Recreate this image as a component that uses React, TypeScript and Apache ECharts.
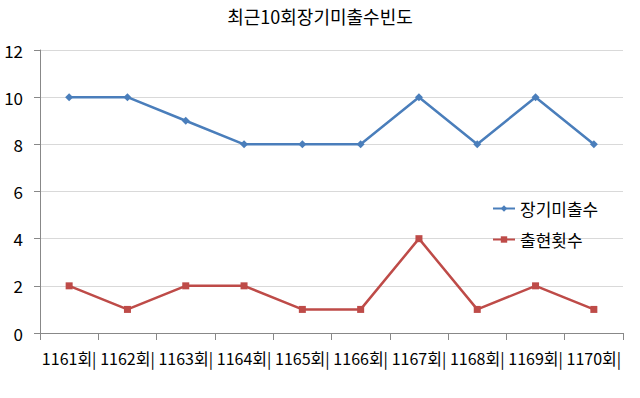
import React, { useEffect, useRef } from "react";
import * as echarts from "echarts";

const categories = ["1161회|", "1162회|", "1163회|", "1164회|", "1165회|", "1166회|", "1167회|", "1168회|", "1169회|", "1170회|"];
const missValues = [10, 10, 9, 8, 8, 8, 10, 8, 10, 8];
const appearValues = [2, 1, 2, 2, 1, 1, 4, 1, 2, 1];
const yTicks = { min: 0, max: 12, interval: 2 };

const FONT = "'Noto Sans CJK KR', 'Noto Sans', sans-serif";

export default function App() {
  const ref = useRef<HTMLDivElement>(null);
  useEffect(() => {
    if (!ref.current) return;
    const chart = echarts.init(ref.current, undefined, { renderer: "svg" });
    chart.setOption({
      animation: false,
      backgroundColor: "#ffffff",
      textStyle: { fontFamily: FONT },
      title: {
        text: "최근10회장기미출수빈도",
        left: "center",
        top: 2,
        textStyle: { fontFamily: FONT, fontSize: 18, fontWeight: "normal", color: "#000" },
      },
      grid: { left: 40, right: 17, top: 50, bottom: 65, containLabel: false },
      legend: {
        orient: "vertical",
        left: 487,
        top: 195,
        itemGap: 14,
        itemWidth: 22,
        itemHeight: 8,
        textStyle: { fontFamily: FONT, fontSize: 17, color: "#000" },
        data: ["장기미출수", "출현횟수"],
      },
      xAxis: {
        type: "category",
        data: categories,
        boundaryGap: true,
        axisLine: { lineStyle: { color: "#888", width: 1 } },
        axisTick: { show: true, length: 7, lineStyle: { color: "#888" }, alignWithLabel: false },
        axisLabel: { fontFamily: FONT, fontSize: 16, color: "#000", margin: 17, interval: 0 },
      },
      yAxis: {
        type: "value",
        min: yTicks.min,
        max: yTicks.max,
        interval: yTicks.interval,
        axisLine: { show: true, lineStyle: { color: "#888", width: 1 } },
        axisTick: { show: true, length: 6, lineStyle: { color: "#888" } },
        splitLine: { lineStyle: { color: "#d9d9d9", width: 1 } },
        axisLabel: { fontFamily: FONT, fontSize: 17, color: "#000", margin: 17 },
      },
      series: [
        {
          name: "장기미출수",
          type: "line",
          data: missValues,
          symbol: "diamond",
          symbolSize: 8,
          itemStyle: { color: "#4a7ebb" },
          lineStyle: { color: "#4a7ebb", width: 2.5 },
        },
        {
          name: "출현횟수",
          type: "line",
          data: appearValues,
          symbol: "rect",
          symbolSize: 7,
          itemStyle: { color: "#be4b48" },
          lineStyle: { color: "#be4b48", width: 2.5 },
        },
      ],
    });
    return () => chart.dispose();
  }, []);
  return <div ref={ref} style={{ width: 640, height: 398, position: "absolute", left: 0, top: 0 }} />;
}
